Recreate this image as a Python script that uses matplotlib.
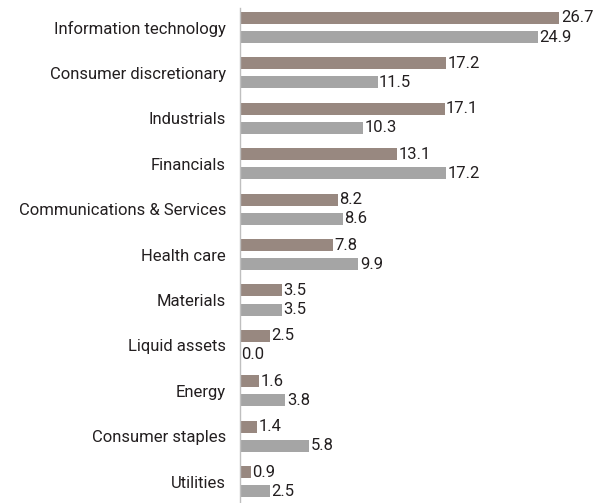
import matplotlib
matplotlib.use("Agg")
import matplotlib.pyplot as plt
import numpy as np

sectors = ["Information technology", "Consumer discretionary", "Industrials", "Financials",
           "Communications & Services", "Health care", "Materials", "Liquid assets",
           "Energy", "Consumer staples", "Utilities"]
fund = [26.7, 17.2, 17.1, 13.1, 8.2, 7.8, 3.5, 2.5, 1.6, 1.4, 0.9]
index = [24.9, 11.5, 10.3, 17.2, 8.6, 9.9, 3.5, 0.0, 3.8, 5.8, 2.5]

plt.rcParams['font.family'] = ['Roboto', 'DejaVu Sans']
txt = '#231f20'

fig = plt.figure(figsize=(6.12, 5.03), dpi=100)
ax = fig.add_axes([240 / 612, 0, 372 / 612, 495 / 503])

y = np.arange(len(sectors))
h = 0.265
off = 0.21
ax.barh(y - off, fund, height=h, color='#988880')
ax.barh(y + off, index, height=h, color='#a5a5a5')

# value labels just past the bar ends
for yi, v in zip(y, fund):
    ax.text(v + 0.12, yi - off, f"{v:.1f}", va='center', ha='left', fontsize=12, color=txt)
for yi, v in zip(y, index):
    ax.text(v + 0.12, yi + off, f"{v:.1f}", va='center', ha='left', fontsize=12, color=txt)

ax.set_xlim(0, 31.1)
ax.set_ylim(10.47, -0.43)
ax.set_yticks(y)
ax.set_yticklabels(sectors, fontsize=12, color=txt)
ax.tick_params(axis='y', length=0, pad=10)
ax.set_xticks([])
for s in ['top', 'right', 'bottom']:
    ax.spines[s].set_visible(False)
ax.spines['left'].set_color('#bfbfbf')
ax.spines['left'].set_linewidth(1)

fig.savefig("out.png", dpi=100)
